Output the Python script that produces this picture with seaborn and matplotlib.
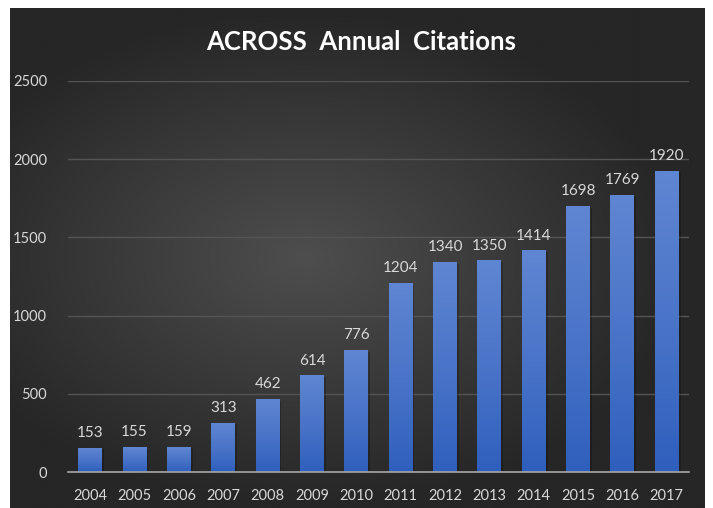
import numpy as np
import pandas as pd
import matplotlib
matplotlib.use("Agg")
import matplotlib.pyplot as plt
import matplotlib.colors as mcolors
import seaborn as sns

years = ["2004", "2005", "2006", "2007", "2008", "2009", "2010",
         "2011", "2012", "2013", "2014", "2015", "2016", "2017"]
citations = [153, 155, 159, 313, 462, 614, 776,
             1204, 1340, 1350, 1414, 1698, 1769, 1920]
y_ticks = [0, 500, 1000, 1500, 2000, 2500]

df = pd.DataFrame({"year": years, "citations": citations})

sns.set_theme(style="dark")
plt.rcParams["font.family"] = ["Lato", "DejaVu Sans"]

W, H = 713, 508
fig = plt.figure(figsize=(W / 100, H / 100), dpi=100, facecolor="white")

# dark panel with radial gradient
bg = fig.add_axes([10 / W, 0, (705 - 10) / W, (H - 8) / H])
bg.set_axis_off()
gx, gy = np.meshgrid(np.linspace(-1, 1, 400), np.linspace(-1, 1, 300))
r = np.sqrt(((gx + 0.15) / 1.1) ** 2 + ((gy - 0.0) / 1.0) ** 2)
r = np.clip(r, 0, 1)
bg_cmap = mcolors.LinearSegmentedColormap.from_list("bg", ["#4e4e4e", "#3a3a3a", "#262626"])
bg.imshow(r, cmap=bg_cmap, aspect="auto", extent=[0, 1, 0, 1], vmin=0, vmax=1)
bg.set_xlim(0, 1)
bg.set_ylim(0, 1)

ax = fig.add_axes([68 / W, 1 - 472 / H, (689 - 68) / W, (472 - 81) / H])
ax.patch.set_alpha(0)

sns.barplot(data=df, x="year", y="citations", color="#4472c4", width=0.54,
            saturation=1, ax=ax, zorder=3)

# gradient fill on bars
bar_cmap = mcolors.LinearSegmentedColormap.from_list("bar", ["#2f5fbd", "#4a74c8", "#5f86d2"])
grad = np.linspace(0, 1, 256).reshape(-1, 1)
for p in ax.patches:
    x0, y0 = p.get_x(), p.get_y()
    w, h = p.get_width(), p.get_height()
    # soft shadow
    ax.bar(x0 + w / 2 + 0.04, h, width=w, bottom=y0 - 8, color="black",
           alpha=0.22, zorder=2, linewidth=0)
    ax.imshow(grad, cmap=bar_cmap, origin="lower", aspect="auto",
              extent=[x0, x0 + w, y0, y0 + h], zorder=4)
    p.set_alpha(0)
    ax.annotate(f"{int(h)}", (x0 + w / 2, y0 + h), xytext=(0, 6),
                textcoords="offset points", ha="center", va="bottom",
                color="#d9d9d9", fontsize=11)

ax.set_xlim(-0.5, len(years) - 0.5)
ax.set_ylim(0, 2500)
ax.set_yticks(y_ticks)
ax.yaxis.grid(True, color="#545454", linewidth=1, zorder=0)
ax.xaxis.grid(False)
ax.set_xlabel("")
ax.set_ylabel("")
for s in ["top", "right", "left"]:
    ax.spines[s].set_visible(False)
ax.spines["bottom"].set_visible(True)
ax.spines["bottom"].set_color("#a6a6a6")
ax.spines["bottom"].set_linewidth(1.2)
ax.spines["bottom"].set_zorder(5)
ax.tick_params(axis="both", length=0, colors="#d9d9d9", labelsize=10.5)
ax.tick_params(axis="y", pad=15)
ax.tick_params(axis="x", pad=12)

fig.text(0.507, 1 - 42 / H, "ACROSS  Annual  Citations", ha="center", va="center",
         color="white", fontsize=18.5, fontweight="bold")

fig.savefig("out.png", dpi=100, facecolor="white")
